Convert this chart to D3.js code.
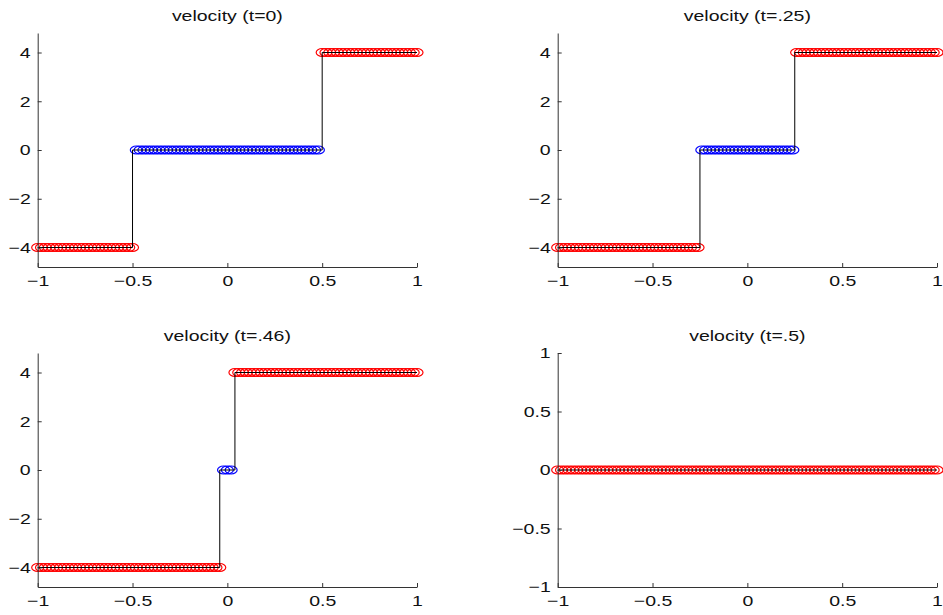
<!DOCTYPE html>
<html>
<head>
<meta charset="utf-8">
<script src="https://cdn.jsdelivr.net/npm/d3@7"></script>
<style>
  body { margin: 0; background: #fff; }
  text { font-family: "Liberation Sans", Arial, sans-serif; fill: #111; }
</style>
</head>
<body>
<script>
// sample grid used by the solver (x = -1 : 0.02 : 1)
const xGrid = d3.range(101).map(i => +(-1 + i * 0.02).toFixed(2));

const titles = ['velocity (t=0)', 'velocity (t=.25)', 'velocity (t=.46)', 'velocity (t=.5)'];

// runs of computed values: [count, u, marker colour]
const runs = [
    [[26, -4, 'red'], [49, 0, 'blue'], [26, 4, 'red']],
    [[38, -4, 'red'], [25, 0, 'blue'], [38, 4, 'red']],
    [[49, -4, 'red'], [3, 0, 'blue'], [49, 4, 'red']],
    [[101, 0, 'red']]
];

// exact solution (black line)
const exactX = [
    [-1, -0.5, -0.5, 0.5, 0.5, 1],
    [-1, -0.25, -0.25, 0.25, 0.25, 1],
    [-1, -0.04, -0.04, 0.04, 0.04, 1],
    [-1, 1]
];
const exactU = [
    [-4, -4, 0, 0, 4, 4],
    [-4, -4, 0, 0, 4, 4],
    [-4, -4, 0, 0, 4, 4],
    [0, 0]
];

const yDomains = [[-4.8, 4.8], [-4.8, 4.8], [-4.8, 4.8], [-1, 1]];
const yTicks = [[-4, -2, 0, 2, 4], [-4, -2, 0, 2, 4], [-4, -2, 0, 2, 4], [-1, -0.5, 0, 0.5, 1]];
const xTicks = [-1, -0.5, 0, 0.5, 1];

const width = 943, height = 615;
const lefts = [37.7, 557.7], tops = [33, 353];
const pw = 379.3, ph = 234;
const sx = 1.3; // horizontal stretch of the original figure

const svg = d3.select('body').append('svg')
    .attr('width', width)
    .attr('height', height);

const fmt = d3.format('');

titles.forEach((title, k) => {
    const g = svg.append('g')
        .attr('transform', `translate(${lefts[k % 2]},${tops[Math.floor(k / 2)]})`);

    const x = d3.scaleLinear().domain([-1, 1]).range([0, pw]);
    const y = d3.scaleLinear().domain(yDomains[k]).range([ph, 0]);

    // expand runs onto the grid
    let points = [], i = 0;
    runs[k].forEach(([n, u, c]) => {
        for (let j = 0; j < n; j++, i++) points.push({x: xGrid[i], u: u, c: c});
    });

    g.append('g')
        .selectAll('ellipse')
        .data(points)
        .enter().append('ellipse')
        .attr('cx', d => x(d.x))
        .attr('cy', d => y(d.u))
        .attr('rx', 6)
        .attr('ry', 4)
        .attr('fill', 'none')
        .attr('stroke', d => d.c === 'red' ? '#ff0000' : '#0000ff')
        .attr('stroke-width', 1.2);

    g.append('path')
        .datum(d3.zip(exactX[k], exactU[k]))
        .attr('fill', 'none')
        .attr('stroke', '#000')
        .attr('stroke-width', 1)
        .attr('d', d3.line().x(d => x(d[0])).y(d => y(d[1])));

    const xAxis = g.append('g')
        .attr('transform', `translate(0,${ph})`)
        .call(d3.axisBottom(x).tickValues(xTicks).tickFormat(fmt)
            .tickSizeInner(-4).tickSizeOuter(0).tickPadding(8));

    const yAxis = g.append('g')
        .call(d3.axisLeft(y).tickValues(yTicks[k]).tickFormat(fmt)
            .tickSizeInner(-4).tickSizeOuter(0).tickPadding(7));

    [xAxis, yAxis].forEach(a => {
        a.attr('font-family', null).attr('font-size', null);
        a.select('.domain').attr('stroke', '#333');
        a.selectAll('.tick line').attr('stroke', '#333');
        a.selectAll('.tick text')
            .attr('fill', '#111')
            .style('font-size', '15px');
    });

    // stretch labels horizontally like the source figure
    xAxis.selectAll('.tick text')
        .attr('transform', `scale(${sx},1)`);
    yAxis.selectAll('.tick text')
        .attr('x', -7 / sx)
        .attr('transform', `scale(${sx},1)`);

    g.append('text')
        .attr('transform', `translate(${pw / 2},-12) scale(${sx},1)`)
        .attr('text-anchor', 'middle')
        .style('font-size', '15px')
        .text(title);
});
</script>
</body>
</html>
